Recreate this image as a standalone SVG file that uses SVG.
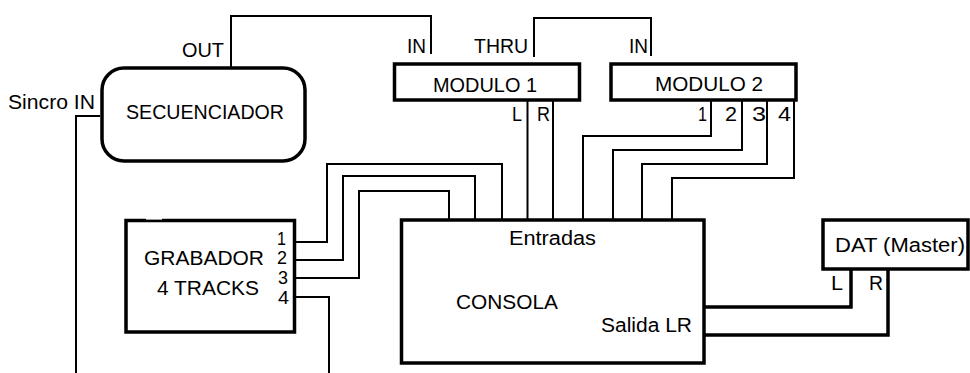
<svg xmlns="http://www.w3.org/2000/svg" width="970" height="373" viewBox="0 0 970 373">
<style>
.box{fill:#fff;stroke:#000;stroke-width:3.5}
.w{fill:none;stroke:#000;stroke-width:2}
.tw{fill:none;stroke:#000;stroke-width:3.5}
text{font-family:"Liberation Sans",Arial,sans-serif;font-size:20px;fill:#000}
.s{font-size:19px}
</style>
<rect width="970" height="373" fill="#fff"/>
<g id="connectors">
<polyline class="w" points="231,67 231,16 431,16 431,54"/>
<polyline class="w" points="534,57 534,18 651,18 651,56"/>
<polyline class="w" points="100,116 76,116 76,373"/>
<line class="w" x1="527.5" y1="100" x2="527.5" y2="220"/>
<line class="w" x1="553" y1="100" x2="553" y2="220"/>
<polyline class="w" points="711,100 711,136 583,136 583,220"/>
<polyline class="w" points="742,100 742,150 613,150 613,220"/>
<polyline class="w" points="767,100 767,164 642,164 642,220"/>
<polyline class="w" points="794,100 794,178 672,178 672,220"/>
<polyline class="w" points="294,242 327,242 327,164 502,164 502,220"/>
<polyline class="w" points="294,260 343,260 343,176 475,176 475,220"/>
<polyline class="w" points="294,278 359,278 359,191 449,191 449,220"/>
<polyline class="w" points="294,297 329,297 329,373"/>
<polyline class="tw" points="704,307 851,307 851,269"/>
<polyline class="tw" points="704,335 888,335 888,269"/>
</g>
<g id="secuenciador">
<rect class="box" x="102" y="68" width="203" height="93" rx="22" ry="22"/>
<text x="126" y="119" textLength="158" lengthAdjust="spacingAndGlyphs">SECUENCIADOR</text>
<text x="182" y="57" textLength="42" lengthAdjust="spacingAndGlyphs">OUT</text>
<text x="8" y="109" textLength="87" lengthAdjust="spacingAndGlyphs">Sincro IN</text>
</g>
<g id="modulo1">
<rect class="box" x="394.5" y="64" width="185" height="36"/>
<text x="433" y="92" textLength="104" lengthAdjust="spacingAndGlyphs">MODULO 1</text>
<text x="407" y="53" textLength="19" lengthAdjust="spacingAndGlyphs">IN</text>
<text x="474" y="53" textLength="54" lengthAdjust="spacingAndGlyphs">THRU</text>
<text x="512" y="121" textLength="10" lengthAdjust="spacingAndGlyphs">L</text>
<text x="537" y="121" textLength="13" lengthAdjust="spacingAndGlyphs">R</text>
</g>
<g id="modulo2">
<rect class="box" x="611" y="64" width="185" height="36"/>
<text x="655" y="91" textLength="108" lengthAdjust="spacingAndGlyphs">MODULO 2</text>
<text x="629" y="53" textLength="19" lengthAdjust="spacingAndGlyphs">IN</text>
<text x="698" y="121" textLength="9" lengthAdjust="spacingAndGlyphs">1</text>
<text x="725" y="121" textLength="12" lengthAdjust="spacingAndGlyphs">2</text>
<text x="752" y="121" textLength="14" lengthAdjust="spacingAndGlyphs">3</text>
<text x="778" y="121" textLength="13" lengthAdjust="spacingAndGlyphs">4</text>
</g>
<g id="grabador">
<rect class="box" x="126" y="220.5" width="168.5" height="111.5"/>
<rect x="146" y="218" width="16" height="1.6" fill="#fff"/>
<text x="144" y="265" textLength="120" lengthAdjust="spacingAndGlyphs">GRABADOR</text>
<text x="157" y="295" textLength="102" lengthAdjust="spacingAndGlyphs">4 TRACKS</text>
<text class="s" x="277" y="245" textLength="9" lengthAdjust="spacingAndGlyphs">1</text>
<text class="s" x="277" y="264" textLength="10" lengthAdjust="spacingAndGlyphs">2</text>
<text class="s" x="278" y="284" textLength="10" lengthAdjust="spacingAndGlyphs">3</text>
<text class="s" x="278" y="304" textLength="11" lengthAdjust="spacingAndGlyphs">4</text>
</g>
<g id="consola">
<rect class="box" x="401.5" y="220" width="302.5" height="143"/>
<text x="509" y="245" textLength="87" lengthAdjust="spacingAndGlyphs">Entradas</text>
<text x="456" y="309" textLength="102" lengthAdjust="spacingAndGlyphs">CONSOLA</text>
<text x="601" y="332" textLength="91" lengthAdjust="spacingAndGlyphs">Salida LR</text>
</g>
<g id="dat">
<rect class="box" x="823" y="220" width="145" height="49"/>
<text x="835" y="252" textLength="130" lengthAdjust="spacingAndGlyphs">DAT (Master)</text>
<text x="831" y="290" textLength="12" lengthAdjust="spacingAndGlyphs">L</text>
<text x="869" y="290" textLength="14" lengthAdjust="spacingAndGlyphs">R</text>
</g>
</svg>
